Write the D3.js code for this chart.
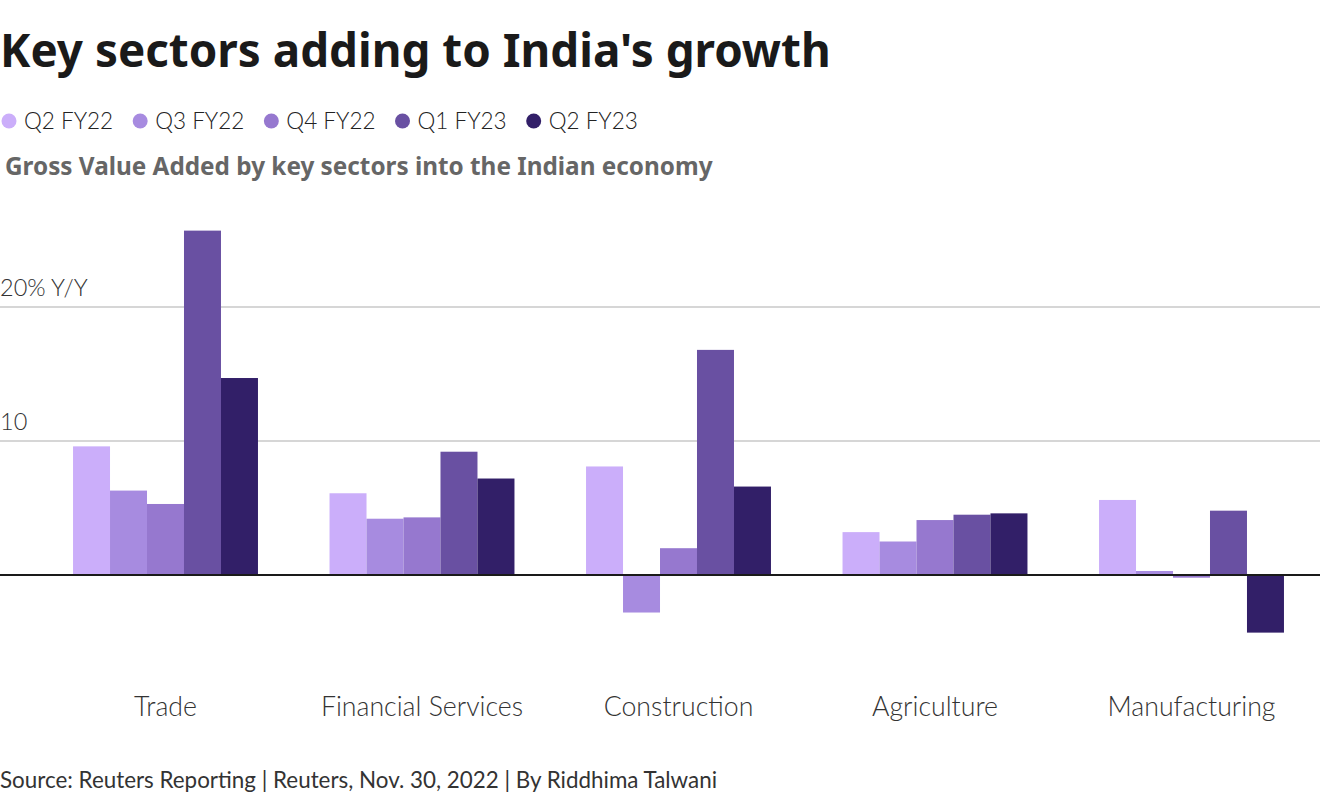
<!DOCTYPE html>
<html><head><meta charset="utf-8">
<script src="https://cdn.jsdelivr.net/npm/d3@7"></script>
<style>
html,body{margin:0;padding:0;background:#fff;}
svg{display:block;font-family:Lato,"Noto Sans",sans-serif;}
</style></head>
<body><svg id="chart" width="1320" height="800"></svg>
<script>
const sectors = ["Trade","Financial Services","Construction","Agriculture","Manufacturing"];
const quarters = ["Q2 FY22","Q3 FY22","Q4 FY22","Q1 FY23","Q2 FY23"];
const colors = ["#cbaefa","#a78be0","#9678cf","#6950a2","#321f68"];
const q2fy22 = [9.6, 6.1, 8.1, 3.2, 5.6];
const q3fy22 = [6.3, 4.2, -2.8, 2.5, 0.3];
const q4fy22 = [5.3, 4.3, 2.0, 4.1, -0.2];
const q1fy23 = [25.7, 9.2, 16.8, 4.5, 4.8];
const q2fy23 = [14.7, 7.2, 6.6, 4.6, -4.3];
const yTicks = [0, 10, 20];
const yTickLabels = ["", "10", "20% Y/Y"];

const series = [q2fy22, q3fy22, q4fy22, q1fy23, q2fy23];
const svg = d3.select("#chart");
const W = 1320;

const x0 = d3.scaleBand().domain(sectors).range([37.25, 1319.75]).paddingInner(0.279).paddingOuter(0.1395);
const x1 = d3.scaleBand().domain(quarters).range([0, x0.bandwidth()]);
const y = d3.scaleLinear().domain([-5, 27]).range([642, 213.2]);

// Title
svg.append("text").attr("x", 0).attr("y", 67).attr("font-size", 45.8).attr("font-weight", 700)
  .attr("font-family", "'Noto Sans',Lato,sans-serif")
  .attr("fill", "#1a1a1a").text("Key sectors adding to India's growth");

// Legend
let lx = 0;
quarters.forEach((q, i) => {
  const g = svg.append("g").attr("transform", `translate(${lx},121)`);
  g.append("circle").attr("cx", 9).attr("cy", 0).attr("r", 7.5).attr("fill", colors[i]);
  const t = g.append("text").attr("x", 24).attr("y", 0).attr("dy", "0.35em").attr("font-size", 22.5)
    .attr("font-weight", 300).attr("fill", "#222").text(q);
  lx += 24 + t.node().getComputedTextLength() + 18;
});

// Subtitle
svg.append("text").attr("x", 5).attr("y", 175).attr("font-size", 24.3).attr("font-weight", 700)
  .attr("font-family", "'Noto Sans',Lato,sans-serif")
  .attr("fill", "#666").text("Gross Value Added by key sectors into the Indian economy");

// Gridlines
svg.append("g").selectAll("line").data(yTicks.filter(d => d !== 0)).join("line")
  .attr("x1", 0).attr("x2", W).attr("y1", d => y(d)).attr("y2", d => y(d))
  .attr("stroke", "#c8c8c8").attr("stroke-width", 1.5);
svg.append("g").selectAll("text").data(yTicks).join("text")
  .attr("x", 0).attr("y", d => y(d) - 11).attr("font-size", 23.5).attr("font-weight", 300)
  .attr("fill", "#333").text((d, i) => yTickLabels[i]);

// Bars
const groups = svg.append("g").selectAll("g").data(sectors).join("g")
  .attr("transform", d => `translate(${x0(d)},0)`);
groups.selectAll("rect").data((d, si) => quarters.map((q, qi) => ({q, qi, v: series[qi][si]}))).join("rect")
  .attr("x", d => x1(d.q)).attr("width", x1.bandwidth())
  .attr("y", d => y(Math.max(0, d.v))).attr("height", d => Math.abs(y(d.v) - y(0)))
  .attr("fill", d => colors[d.qi]);

// Zero line
svg.append("line").attr("x1", 0).attr("x2", W).attr("y1", y(0)).attr("y2", y(0))
  .attr("stroke", "#1a1a1a").attr("stroke-width", 2);

// Category labels
const xAxis = d3.axisBottom(x0).tickSize(0).tickPadding(0);
const ax = svg.append("g").attr("transform", "translate(0,707)").call(xAxis);
ax.select(".domain").remove();
ax.selectAll("text").attr("dy", "0.35em").attr("font-size", 26.7).attr("font-weight", 300)
  .attr("fill", "#333").attr("font-family", "Lato,'Noto Sans',sans-serif");

// Source
svg.append("text").attr("x", 0).attr("y", 788).attr("font-size", 22.4).attr("fill", "#333")
  .text("Source: Reuters Reporting | Reuters, Nov. 30, 2022 | By Riddhima Talwani");
</script></body></html>
